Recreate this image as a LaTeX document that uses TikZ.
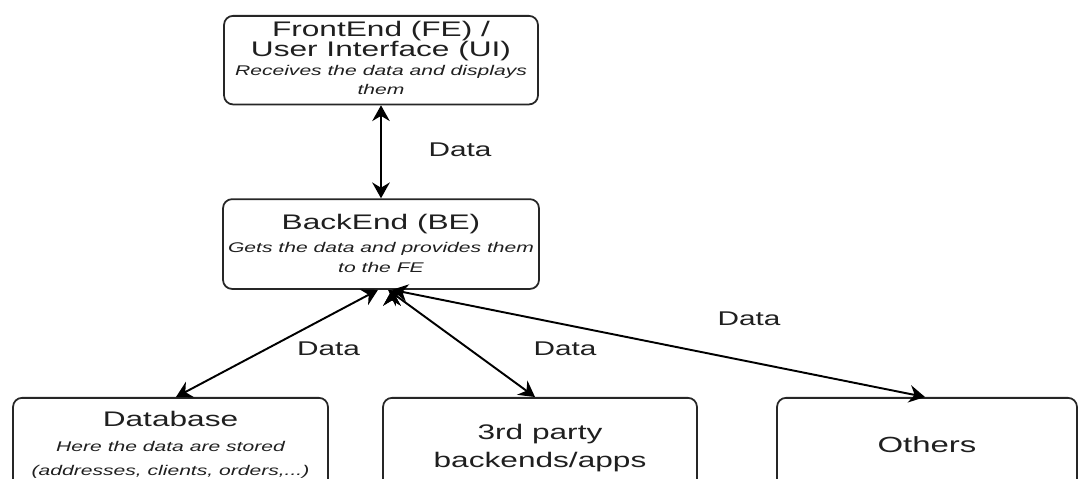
\documentclass[tikz,border=0pt]{standalone}
\usepackage{fontspec}
\setmainfont{Liberation Sans}[FakeStretch=1.5]
\usetikzlibrary{arrows.meta, positioning}
\setlength{\lineskiplimit}{-20pt}
\tikzset{comp node/.style={rectangle,draw=black!85,line width=1pt,rounded corners=0.18cm,
    inner sep=0pt,align=center,text=black!88},
  data label/.style={inner sep=0pt,text=black!88,font=\fontsize{11.3}{12}\selectfont},
  data link/.style={draw,line width=1.1pt,
    {Stealth[length=9pt,width=10pt,inset=3pt]}-{Stealth[length=9pt,width=10pt,inset=3pt]}},}
\newcommand{\boxtitle}[1]{{\fontsize{12}{12}\selectfont #1}}
\newcommand{\boxnote}[1]{{\fontsize{8}{9}\selectfont\itshape #1}}

\begin{document}
\begin{tikzpicture}[x=0.02cm, y=-0.02cm]
   \useasboundingbox (0,0) rectangle (1083,479);
   \clip (0,0) rectangle (1083,479);
   % front end and back end
   \node[comp node, anchor=north, minimum width=6.28cm, text height=45pt, text depth=5.4pt,
     font=\fontsize{12}{11}\selectfont] (FE) at (381,15)
     {\boxtitle{FrontEnd (FE) /}\\[0.3pt]\boxtitle{User Interface (UI)}\\[-0.2pt]\boxnote{Receives the data and displays}\\\boxnote{them}};
   \node[comp node, minimum width=6.32cm, text height=42pt, text depth=9.1pt,
     font=\fontsize{10}{11.9}\selectfont] (BE) [below = 1.86cm of FE]
     {\boxtitle{BackEnd (BE)}\\[0.7pt]\boxnote{Gets the data and provides them}\\\boxnote{to the FE}};
   % data sources
   \node[comp node, anchor=north, minimum width=6.3cm, text height=43.9pt, text depth=10.5pt,
     font=\fontsize{12}{13.3}\selectfont] (DB) at (170.5,397)
     {\boxtitle{Database}\\[1pt]\boxnote{Here the data are stored}\\\boxnote{(addresses, clients, orders,...)}};
   \node[comp node, anchor=north, minimum width=6.28cm, text height=39.7pt, text depth=14.7pt,
     font=\fontsize{12}{15.9}\selectfont] (API) at (540,397)
     {\boxtitle{3rd party}\\\boxtitle{backends/apps}};
   \node[comp node, anchor=north, minimum width=6cm, text height=30.9pt, text depth=23.5pt,
     font=\fontsize{12.5}{13}\selectfont] (OTH) at (927,397) {Others};
   % links
   \path[data link]
   (FE) edge node {} (BE)
   ([xshift=-0.06cm]BE.south) edge node {} ([xshift=0.11cm]DB.north)
   ([xshift=0.14cm]BE.south) edge node {} ([xshift=-0.1cm]API.north)
   ([xshift=0.22cm]BE.south) edge node {} ([xshift=-0.04cm]OTH.north);
   \node[data label] (d1) at (460,150) {Data};
   \node[data label] (d2) at (328.5,349) {Data};
   \node[data label] (d3) at (565,349) {Data};
   \node[data label] (d4) at (749,319) {Data};
\end{tikzpicture}
\end{document}
